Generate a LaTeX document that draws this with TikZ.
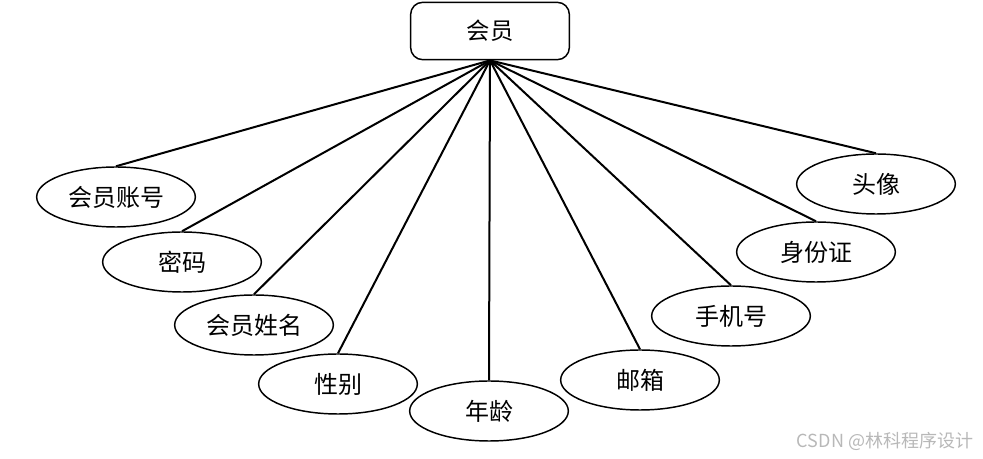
\documentclass[tikz,border=0pt]{standalone}
\usepackage{fontspec}
\newfontfamily\cjk{Noto Sans CJK SC}
\usetikzlibrary{shapes.geometric}

\tikzset{
	entity/.style={draw,line width=1.1pt,rounded corners=9pt,minimum width=119pt,minimum height=43pt,inner sep=0pt,font=\cjk\fontsize{17.5}{20}\selectfont},
	attr/.style={draw,ellipse,line width=1.1pt,minimum width=119pt,minimum height=45pt,inner sep=0pt,font=\cjk\fontsize{18}{20}\selectfont},
	link/.style={line width=1.5pt}
}

\begin{document}
\begin{tikzpicture}[x=0.75pt,y=-0.75pt]
	\useasboundingbox (0,0) rectangle (983,459);
	\node[entity] (huiyuan) at (490,31) {会员};
	% attributes, left to right
	\node[attr] (zhanghao) at (116,197) {会员账号};
	\node[attr] (mima) at (182,262) {密码};
	\node[attr] (xingming) at (254,325) {会员姓名};
	\node[attr] (xingbie) at (338,384) {性别};
	\node[attr] (nianling) at (489,411) {年龄};
	\node[attr] (youxiang) at (640,380) {邮箱};
	\node[attr] (shouji) at (731,316) {手机号};
	\node[attr] (shenfen) at (816,252) {身份证};
	\node[attr] (touxiang) at (876,184) {头像};
	\foreach \n in {zhanghao,mima,xingming,xingbie,nianling,youxiang,shouji,shenfen,touxiang}{
		\draw[link] (huiyuan.south) -- (\n.north);
	}
	\node[text=black!28,font=\cjk\fontsize{13.5}{15}\selectfont] (mark) at (885,441) {CSDN @林科程序设计};
\end{tikzpicture}
\end{document}
